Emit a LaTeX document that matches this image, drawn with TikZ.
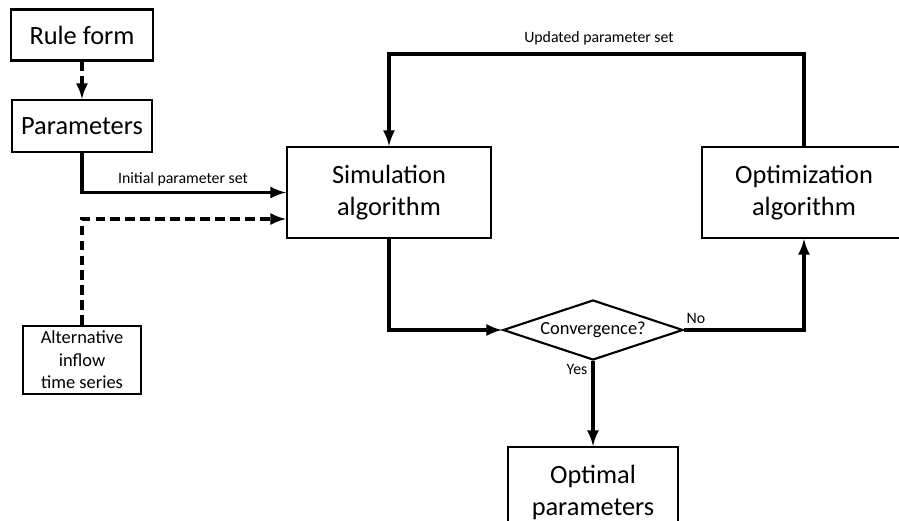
\documentclass[tikz,border=0pt]{standalone}
\usepackage{fontspec}
\setmainfont{Carlito}
\usetikzlibrary{shapes.geometric}

\begin{document}
\begin{tikzpicture}[
	  box/.style={draw, line width=1.2pt, inner sep=0pt, align=center, font=\fontsize{15}{18}\selectfont},
	  smallbox/.style={draw, line width=1.2pt, inner sep=0pt, align=center, font=\fontsize{10.5}{12.8}\selectfont},
	  flow/.style={->, >=latex, line width=2pt},
	  dashflow/.style={->, >=latex, line width=2pt, dash pattern=on 5.5pt off 3pt},
	  lbl/.style={font=\fontsize{9}{11}\selectfont}]
	  \useasboundingbox (0,0) rectangle (17.98,-10.42);
	  \clip (0,0) rectangle (17.98,-10.42);
	  \node[box, minimum width=2.84cm, minimum height=1.02cm] (rule) at (1.64,-0.70) {Rule form};
	  \node[box, minimum width=2.8cm, minimum height=1.04cm] (param) at (1.64,-2.52) {Parameters};
	  \node[box, minimum width=4.08cm, minimum height=1.82cm] (sim) at (7.78,-3.85) {Simulation\\algorithm};
	  \node[box, minimum width=4.08cm, minimum height=1.82cm] (opt) at (16.08,-3.85) {Optimization\\algorithm};
	  \node[box, minimum width=3.4cm, minimum height=1.82cm] (optimal) at (11.86,-9.85) {Optimal\\parameters};
	  \node[smallbox, minimum width=2.36cm, minimum height=1.36cm] (alt) at (1.64,-7.2) {Alternative\\inflow\\time series};
	  \node[draw, diamond, aspect=3, line width=1.2pt, inner sep=0pt, minimum width=3.6cm, minimum height=1.2cm, font=\fontsize{10.5}{12.8}\selectfont] (conv) at (11.86,-6.6) {Convergence?};
	  \draw[dashflow](rule) -- (param);
	  \draw[flow](param.south) |- (sim.west);
	  \draw[dashflow](alt.north) |- ([yshift=-0.53cm]sim.west);
	  \draw[flow](sim.south) |- (conv.west);
	  \draw[flow](conv.east) -| (opt.south);
	  \draw[flow](opt.north) -- (opt.north |- 0,-1.08) -| (sim.north);
	  \draw[flow](conv.south) -- (optimal.north);
	  \node[lbl] (initlbl) at (3.66,-3.58) {Initial parameter set};
	  \node[lbl] (updlbl) at (11.98,-0.76) {Updated parameter set};
	  \node[lbl] (nolbl) at (13.92,-6.36) {No};
	  \node[lbl] (yeslbl) at (11.54,-7.38) {Yes};
	\end{tikzpicture}
\end{document}
